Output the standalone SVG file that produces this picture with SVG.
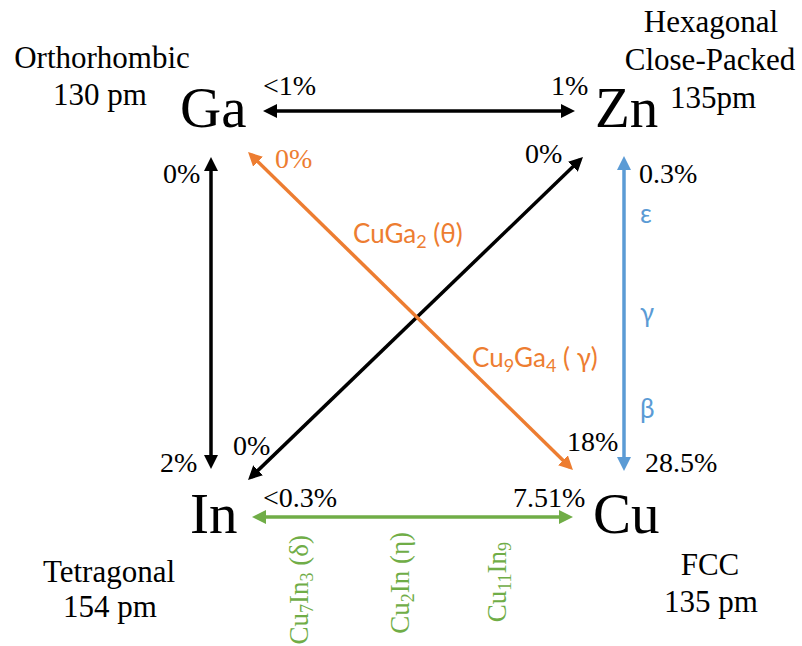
<svg xmlns="http://www.w3.org/2000/svg" width="802" height="646" viewBox="0 0 802 646">
<style>
.el{font-family:"Liberation Serif","Times New Roman",serif;font-size:57px;fill:#000}
.cl{font-family:"Liberation Serif","Times New Roman",serif;font-size:31px;fill:#000;text-anchor:middle}
.pc{font-family:"Liberation Serif","Times New Roman",serif;font-size:28px;fill:#000}
.po{fill:#ED7D31}
.ph{font-family:Lato,"Open Sans",sans-serif;font-size:26px}
.or{fill:#ED7D31}
.bl{fill:#5B9BD5}
.gt{font-family:"Liberation Serif","Times New Roman",serif;font-size:27px;fill:#70AD47;text-anchor:end}
.ln{fill:none;stroke-width:3.5}
</style>
<defs>
<marker id="aK" viewBox="0 0 14 14" refX="10" refY="7" markerWidth="14" markerHeight="14" markerUnits="userSpaceOnUse" orient="auto-start-reverse"><path d="M0,0 L14,7 L0,14 z" fill="#000"/></marker>
<marker id="aO" viewBox="0 0 14 14" refX="10" refY="7" markerWidth="14" markerHeight="14" markerUnits="userSpaceOnUse" orient="auto-start-reverse"><path d="M0,0 L14,7 L0,14 z" fill="#ED7D31"/></marker>
<marker id="aB" viewBox="0 0 14 14" refX="10" refY="7" markerWidth="14" markerHeight="14" markerUnits="userSpaceOnUse" orient="auto-start-reverse"><path d="M0,0 L14,7 L0,14 z" fill="#5B9BD5"/></marker>
<marker id="aG" viewBox="0 0 14 14" refX="10" refY="7" markerWidth="14" markerHeight="14" markerUnits="userSpaceOnUse" orient="auto-start-reverse"><path d="M0,0 L14,7 L0,14 z" fill="#70AD47"/></marker>
</defs>
<rect width="802" height="646" fill="#fff"/>

<g id="node-Ga">
<text class="el" x="180" y="127">Ga</text>
<text class="cl" x="102" y="68">Orthorhombic</text>
<text class="cl" x="100" y="105">130 pm</text>
</g>
<g id="node-Zn">
<text class="el" x="595" y="127">Zn</text>
<text class="cl" x="711" y="32">Hexagonal</text>
<text class="cl" x="710" y="70">Close-Packed</text>
<text class="cl" x="713" y="108">135pm</text>
</g>
<g id="node-In">
<text class="el" x="190" y="533">In</text>
<text class="cl" x="109" y="582">Tetragonal</text>
<text class="cl" x="110" y="617">154 pm</text>
</g>
<g id="node-Cu">
<text class="el" x="593" y="533">Cu</text>
<text class="cl" x="710" y="575">FCC</text>
<text class="cl" x="711" y="612">135 pm</text>
</g>

<g id="connectors">
<line class="ln" x1="267" y1="111" x2="571" y2="111" stroke="#000" marker-start="url(#aK)" marker-end="url(#aK)"/>
<line class="ln" x1="211" y1="161" x2="211" y2="465" stroke="#000" marker-start="url(#aK)" marker-end="url(#aK)"/>
<line class="ln" x1="580.1" y1="159.8" x2="250.9" y2="477.2" stroke="#000" marker-start="url(#aK)" marker-end="url(#aK)"/>
<line class="ln" x1="250.9" y1="154.8" x2="570.1" y2="467.2" stroke="#ED7D31" marker-start="url(#aO)" marker-end="url(#aO)"/>
<line class="ln" x1="624" y1="160" x2="624" y2="467" stroke="#5B9BD5" marker-start="url(#aB)" marker-end="url(#aB)"/>
<line class="ln" x1="256" y1="517" x2="569" y2="517" stroke="#70AD47" marker-start="url(#aG)" marker-end="url(#aG)"/>
</g>

<g id="edge-labels">
<text class="pc" x="263" y="95">&lt;1%</text>
<text class="pc" x="551" y="95">1%</text>
<text class="pc" x="163" y="183">0%</text>
<text class="pc" x="160" y="472">2%</text>
<text class="pc" x="525" y="163">0%</text>
<text class="pc" x="233" y="455">0%</text>
<text class="pc po" x="275" y="168">0%</text>
<text class="pc" x="567" y="451">18%</text>
<text class="pc" x="639" y="183">0.3%</text>
<text class="pc" x="645" y="472">28.5%</text>
<text class="pc" x="263" y="507">&lt;0.3%</text>
<text class="pc" x="513" y="507">7.51%</text>

<text class="ph or" x="353" y="243">CuGa<tspan dy="5" font-size="18">2</tspan><tspan dy="-5"> (θ)</tspan></text>
<text class="ph or" x="472" y="367">Cu<tspan dy="5" font-size="18">9</tspan><tspan dy="-5">Ga</tspan><tspan dy="5" font-size="18">4</tspan><tspan dy="-5"> ( γ)</tspan></text>

<text class="ph bl" x="640" y="223">ε</text>
<text class="ph bl" x="640" y="322">γ</text>
<text class="ph bl" x="640" y="418">β</text>

<text class="gt" transform="translate(308,535) rotate(-90)">Cu<tspan dy="5" font-size="18">7</tspan><tspan dy="-5">In</tspan><tspan dy="5" font-size="18">3</tspan><tspan dy="-5"> (δ)</tspan></text>
<text class="gt" transform="translate(409,532) rotate(-90)">Cu<tspan dy="5" font-size="18">2</tspan><tspan dy="-5">In  (η)</tspan></text>
<text class="gt" transform="translate(506,542) rotate(-90)">Cu<tspan dy="5" font-size="18">11</tspan><tspan dy="-5">In</tspan><tspan dy="5" font-size="18">9</tspan></text>
</g>
</svg>
